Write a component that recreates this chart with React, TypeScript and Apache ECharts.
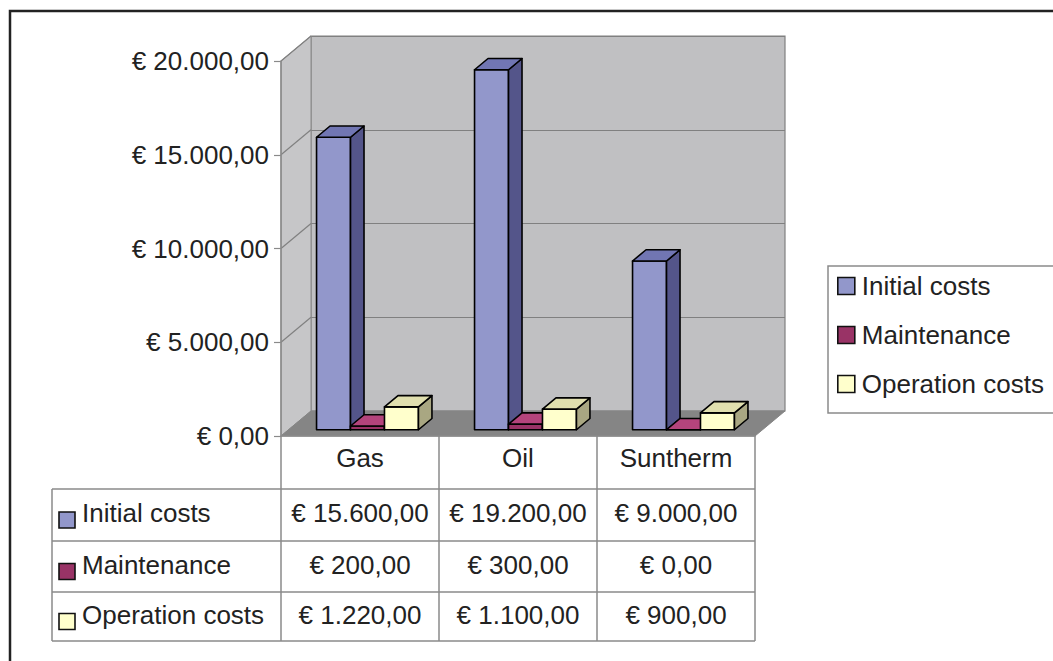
import React, { useEffect, useRef } from "react";
import * as echarts from "echarts";

// ---- data ----
const categories = ["Gas", "Oil", "Suntherm"];
const seriesNames = ["Initial costs", "Maintenance", "Operation costs"];
const initialCosts = [15600, 19200, 9000];
const maintenance = [200, 300, 0];
const operationCosts = [1220, 1100, 900];
const yTicks = [0, 5000, 10000, 15000, 20000];

const seriesValues = [initialCosts, maintenance, operationCosts];

// ---- styles ----
const FONT = "'Liberation Sans', Arial, sans-serif";
const frontColors = ["#9297cb", "#993366", "#ffffcc"];
const topColors = ["#7176b3", "#b4447c", "#e0dfae"];
const sideColors = ["#54558a", "#66203f", "#a9a782"];

// layout
const W = 1053;
const H = 661;
const G_LEFT = 281;
const G_RIGHT = 755;
const G_TOP = 61;
const G_BOTTOM = 436;
const DX = 30;
const DY = -25;
const F1 = 0.25; // bar front depth fraction
const F2 = 0.7; // bar back depth fraction
const TABLE_LEFT = 52;
const ROW_LINES = [489, 541, 592, 641];
const LINE_COLOR = "#8a8a8a";

function euro(v: number): string {
  const fixed = v.toFixed(2);
  const [intPart, dec] = fixed.split(".");
  const withDots = intPart.replace(/\B(?=(\d{3})+(?!\d))/g, ".");
  return "€ " + withDots + "," + dec;
}

export default function App() {
  const ref = useRef<HTMLDivElement>(null);

  useEffect(() => {
    document.body.style.margin = "0";
    if (!ref.current) return;
    const chart = echarts.init(ref.current, undefined, { renderer: "svg" });

    const barSeries = seriesValues.map((vals, si) => ({
      type: "custom",
      name: seriesNames[si],
      xAxisIndex: 0,
      yAxisIndex: 0,
      z: 5,
      itemStyle: { color: frontColors[si] },
      data: categories.map((_, j) => [j, vals[j]]),
      encode: { x: 0, y: 1 },
      renderItem: (params: any, api: any) => {
        const cat = api.value(0);
        const val = api.value(1);
        const band = api.size([1, 0])[0];
        const base = api.coord([cat, 0]);
        const top = api.coord([cat, val]);
        const bw = band * 0.215;
        const x0 = base[0] - band / 2 + (band - 3 * bw) / 2 + si * bw + DX * F1;
        const x1 = x0 + bw;
        const yb = base[1] + DY * F1;
        const yt = top[1] + DY * F1;
        const ddx = DX * (F2 - F1);
        const ddy = DY * (F2 - F1);
        const stroke = { stroke: "#000", lineWidth: 1.6, lineJoin: "round" };
        return {
          type: "group",
          children: [
            {
              type: "polygon",
              shape: { points: [[x0, yb], [x1, yb], [x1, yt], [x0, yt]] },
              style: { fill: frontColors[si], ...stroke },
            },
            {
              type: "polygon",
              shape: { points: [[x1, yb], [x1 + ddx, yb + ddy], [x1 + ddx, yt + ddy], [x1, yt]] },
              style: { fill: sideColors[si], ...stroke },
            },
            {
              type: "polygon",
              shape: { points: [[x0, yt], [x1, yt], [x1 + ddx, yt + ddy], [x0 + ddx, yt + ddy]] },
              style: { fill: topColors[si], ...stroke },
            },
          ],
        };
      },
    }));

    const wallSeries = {
      type: "custom",
      name: "walls",
      xAxisIndex: 0,
      yAxisIndex: 0,
      z: 2,
      silent: true,
      data: yTicks.map((v) => [0, v]),
      encode: { x: 0, y: 1 },
      renderItem: (params: any, api: any) => {
        const band = api.size([1, 0])[0];
        const p0 = api.coord([0, 0]);
        const pEnd = api.coord([categories.length - 1, 0]);
        const left = p0[0] - band / 2;
        const right = pEnd[0] + band / 2;
        const bottomY = p0[1];
        const topY = api.coord([0, yTicks[yTicks.length - 1]])[1];
        const y = api.coord([0, api.value(1)])[1];
        const children: any[] = [];
        if (params.dataIndex === 0) {
          children.push({
            type: "polygon",
            shape: { points: [[left, topY], [left + DX, topY + DY], [left + DX, bottomY + DY], [left, bottomY]] },
            style: { fill: "#c6c6c8", stroke: "#8a8a8a", lineWidth: 1 },
          });
          children.push({
            type: "polygon",
            shape: { points: [[left, bottomY], [right, bottomY], [right + DX, bottomY + DY], [left + DX, bottomY + DY]] },
            style: { fill: "#858585", stroke: "#858585", lineWidth: 1 },
          });
        }
        if (params.dataIndex !== 0) {
          children.push({
            type: "line",
            shape: { x1: left, y1: y, x2: left + DX, y2: y + DY },
            style: { stroke: "#808080", lineWidth: 1.2 },
          });
        }
        return { type: "group", children };
      },
    };

    const tableSeries = {
      type: "custom",
      name: "table",
      xAxisIndex: 0,
      yAxisIndex: 0,
      z: 6,
      silent: true,
      clip: false,
      data: categories.map((_, j) => [j, 0]),
      encode: { x: 0, y: 1 },
      renderItem: (params: any, api: any) => {
        const j = api.value(0);
        const p = api.coord([j, 0]);
        const rowCenters = [
          (ROW_LINES[0] + ROW_LINES[1]) / 2,
          (ROW_LINES[1] + ROW_LINES[2]) / 2,
          (ROW_LINES[2] + ROW_LINES[3]) / 2,
        ];
        return {
          type: "group",
          children: seriesValues.map((vals, si) => ({
            type: "text",
            x: p[0],
            y: rowCenters[si] - 2,
            style: {
              text: euro(vals[j]),
              align: "center",
              verticalAlign: "middle",
              fontSize: 26,
              fontFamily: FONT,
              fill: "#222",
            },
          })),
        };
      },
    };

    const graphics: any[] = [];
    // outer frame
    graphics.push({
      type: "rect",
      shape: { x: 10, y: 11, width: 1100, height: 700 },
      style: { fill: "none", stroke: "#222", lineWidth: 2.5 },
      z: 0,
    });
    // table horizontal lines
    ROW_LINES.forEach((y) => {
      graphics.push({
        type: "line",
        shape: { x1: TABLE_LEFT, y1: y, x2: G_RIGHT, y2: y },
        style: { stroke: LINE_COLOR, lineWidth: 1.5 },
        z: 10,
      });
    });
    graphics.push({
      type: "line",
      shape: { x1: TABLE_LEFT, y1: ROW_LINES[0], x2: TABLE_LEFT, y2: ROW_LINES[3] },
      style: { stroke: LINE_COLOR, lineWidth: 1.5 },
      z: 10,
    });
    // table row headers
    seriesNames.forEach((name, si) => {
      const cy = (ROW_LINES[si] + ROW_LINES[si + 1]) / 2;
      graphics.push({
        type: "rect",
        shape: { x: 59, y: cy - 3, width: 16, height: 16 },
        style: { fill: frontColors[si], stroke: "#111", lineWidth: 1.6 },
        z: 10,
      });
      graphics.push({
        type: "text",
        x: 82,
        y: cy - 2,
        style: {
          text: name,
          align: "left",
          verticalAlign: "middle",
          fontSize: 26,
          fontFamily: FONT,
          fill: "#222",
        },
        z: 10,
      });
    });

    const option: any = {
      animation: false,
      backgroundColor: "#fff",
      textStyle: { fontFamily: FONT },
      grid: [
        {
          left: G_LEFT,
          right: W - G_RIGHT,
          top: G_TOP,
          bottom: H - G_BOTTOM,
          show: false,
        },
        {
          left: G_LEFT + DX,
          right: W - G_RIGHT - DX,
          top: G_TOP + DY,
          bottom: H - G_BOTTOM - DY,
          show: true,
          backgroundColor: "#c0c0c2",
          borderColor: "#808080",
          borderWidth: 1.2,
        },
      ],
      xAxis: [
        {
          type: "category",
          gridIndex: 0,
          data: categories,
          boundaryGap: true,
          axisLine: { show: true, lineStyle: { color: LINE_COLOR, width: 1.5 } },
          axisTick: {
            show: true,
            length: ROW_LINES[3] - G_BOTTOM,
            lineStyle: { color: LINE_COLOR, width: 1.5 },
          },
          axisLabel: { fontSize: 26, color: "#222", margin: 9, fontFamily: FONT },
          splitLine: { show: false },
          z: 8,
        },
        {
          type: "category",
          gridIndex: 1,
          data: categories,
          show: false,
        },
      ],
      yAxis: [
        {
          type: "value",
          gridIndex: 0,
          min: 0,
          max: 20000,
          interval: 5000,
          axisLine: { show: true, lineStyle: { color: LINE_COLOR, width: 1.5 } },
          axisTick: { show: true, length: 7, lineStyle: { color: LINE_COLOR, width: 1.2 } },
          axisLabel: {
            fontSize: 26,
            color: "#222",
            margin: 12,
            fontFamily: FONT,
            formatter: (v: number) => euro(v),
          },
          splitLine: { show: false },
          z: 8,
        },
        {
          type: "value",
          gridIndex: 1,
          min: 0,
          max: 20000,
          interval: 5000,
          axisLine: { show: false },
          axisTick: { show: false },
          axisLabel: { show: false },
          splitLine: { show: true, lineStyle: { color: "#808080", width: 1.2 } },
        },
      ],
      legend: {
        data: seriesNames,
        orient: "vertical",
        left: 828,
        top: 266,
        padding: [5, 40, 14, 9],
        itemGap: 19,
        itemWidth: 17,
        itemHeight: 17,
        icon: "rect",
        borderColor: LINE_COLOR,
        borderWidth: 1.5,
        backgroundColor: "#fff",
        itemStyle: { borderColor: "#111", borderWidth: 1.6 },
        textStyle: { fontSize: 26, color: "#222", fontFamily: FONT, lineHeight: 30, padding: [0, 0, 0, 2] },
        selectedMode: false,
      },
      graphic: graphics,
      series: [wallSeries, ...barSeries, tableSeries],
    };

    chart.setOption(option);
    return () => chart.dispose();
  }, []);

  return (
    <div
      ref={ref}
      style={{ position: "absolute", left: 0, top: 0, width: W, height: H }}
    />
  );
}
